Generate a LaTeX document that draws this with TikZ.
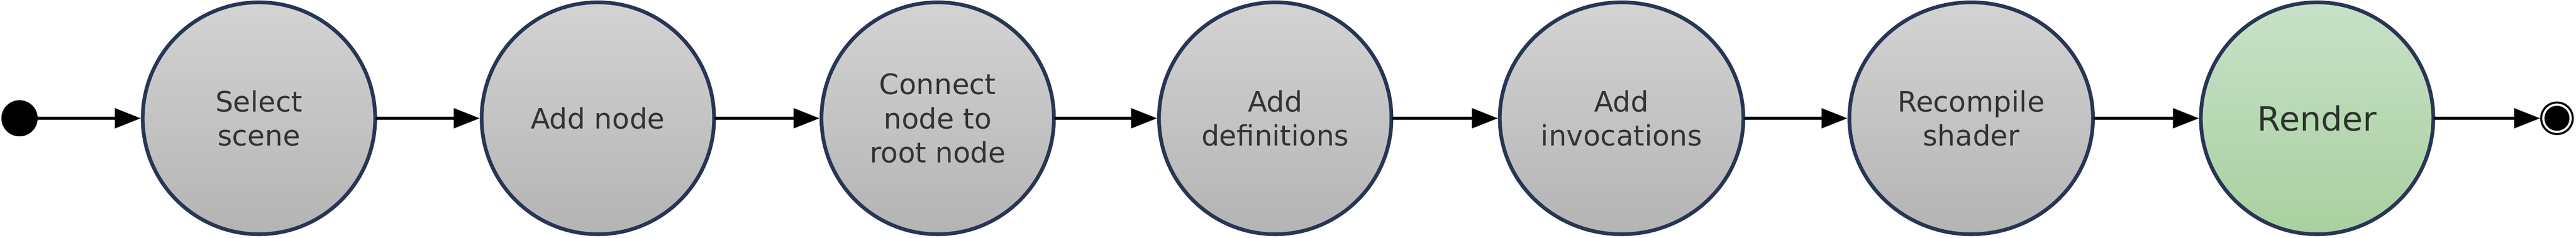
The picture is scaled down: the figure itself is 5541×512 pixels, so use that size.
\documentclass[tikz,border=0pt]{standalone}
\usepackage{fontspec}
\setmainfont{DejaVu Sans}
\usetikzlibrary{shapes.geometric,arrows.meta}
\definecolor{bordercol}{HTML}{283555}
\definecolor{txtcol}{HTML}{333333}
\definecolor{graytop}{HTML}{D3D3D3}
\definecolor{graybot}{HTML}{B4B4B4}
\definecolor{greentop}{HTML}{C8E1C8}
\definecolor{greenbot}{HTML}{A9D0A0}
\definecolor{rendertxt}{HTML}{2C342C}
\tikzset{
  stepnode/.style={ellipse, draw=bordercol, line width=4pt, inner sep=0pt,
    minimum width=250pt, minimum height=250pt, top color=graytop, bottom color=graybot,
    shading angle=0, text=txtcol, align=center,
    font=\fontsize{30.35pt}{37pt}\selectfont},
  widenode/.style={stepnode, minimum width=262pt},
  greennode/.style={stepnode, top color=greentop, bottom color=greenbot, text=rendertxt,
    font=\fontsize{36pt}{43pt}\selectfont},
  flow/.style={line width=3.5pt, line cap=round, -{Triangle[length=28pt,width=21pt]}},
  startdot/.style={circle, fill=black, minimum size=39pt, inner sep=0pt},
  endring/.style={circle, draw=black, fill=white, line width=2.2pt, minimum size=34pt, inner sep=0pt},
  enddot/.style={circle, fill=black, minimum size=27pt, inner sep=0pt}
}
\begin{document}
\begin{tikzpicture}[x=0.5pt,y=-0.5pt]
\useasboundingbox (0,0) rectangle (5541,512);
\node[startdot] (s) at (42,255) {};
\node[stepnode] (n1) at (557,255) {Select\\scene};
\node[stepnode] (n2) at (1286,255) {Add node};
\node[stepnode] (n3) at (2017,255) {Connect\\node to\\root node};
\node[stepnode] (n4) at (2743,255) {Add\\definitions};
\node[widenode] (n5) at (3488,255) {Add\\invocations};
\node[widenode] (n6) at (4240,255) {Recompile\\shader};
\node[greennode] (n7) at (4984,255) {Render};
\node[endring] (e) at (5500,255) {};
\node[enddot] (ein) at (e.center) {};
\draw[flow] (s) -- (n1);
\draw[flow] (n1) -- (n2);
\draw[flow] (n2) -- (n3);
\draw[flow] (n3) -- (n4);
\draw[flow] (n4) -- (n5);
\draw[flow] (n5) -- (n6);
\draw[flow] (n6) -- (n7);
\draw[flow] (n7) -- (e);
\end{tikzpicture}
\end{document}
